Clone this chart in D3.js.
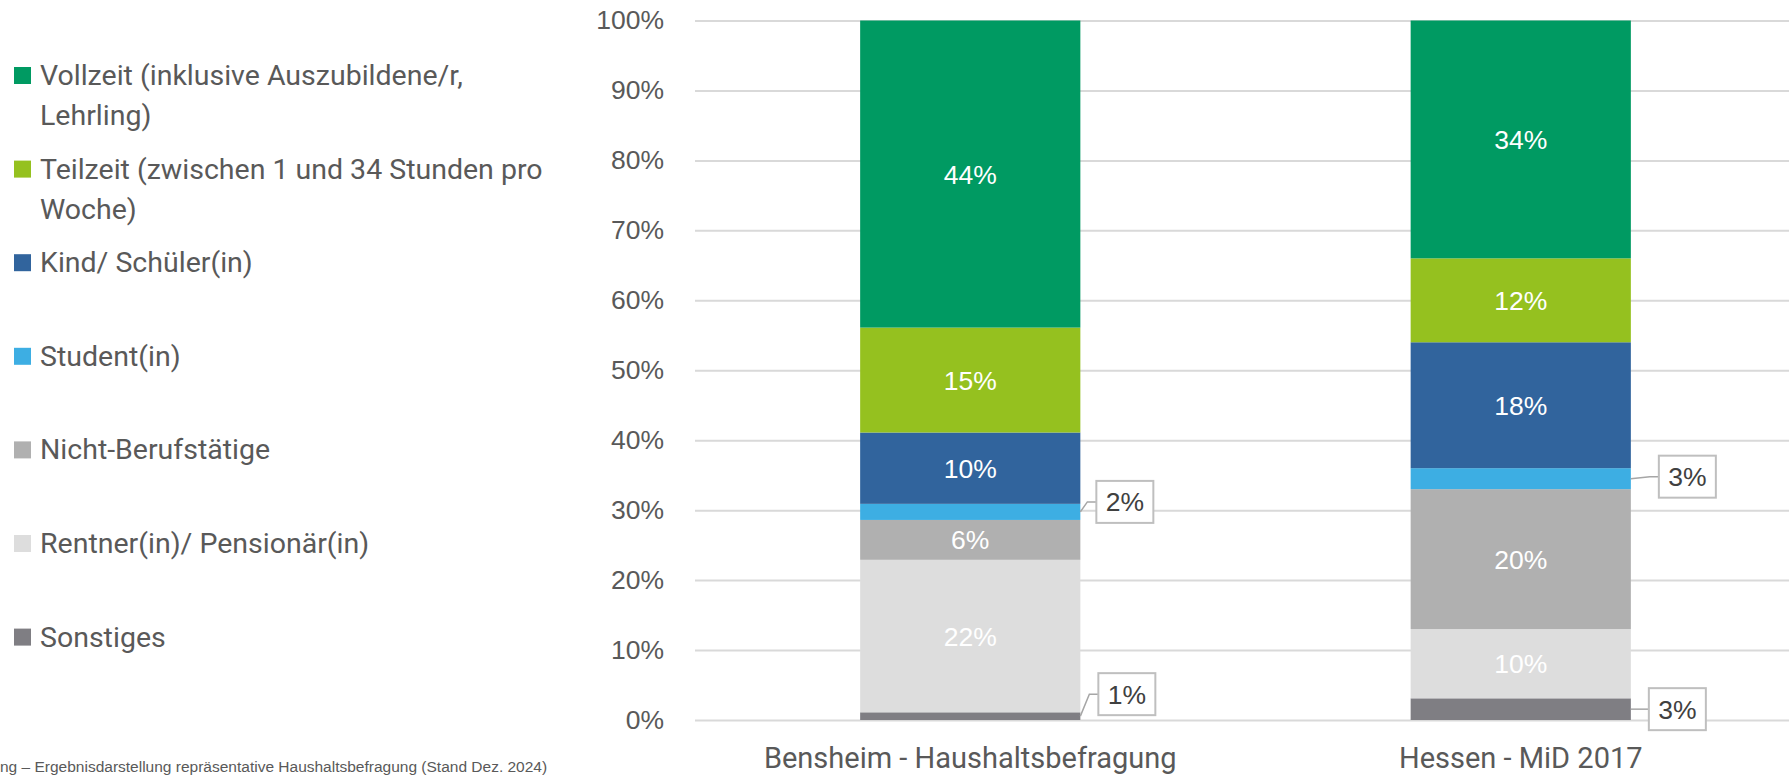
<!DOCTYPE html>
<html>
<head>
<meta charset="utf-8">
<script src="https://cdn.jsdelivr.net/npm/d3@7"></script>
<style>
  html, body { margin: 0; padding: 0; background: #ffffff; }
  svg { display: block; }
</style>
</head>
<body>
<script>
// ---------- DATA ----------
const categories = ["Bensheim - Haushaltsbefragung", "Hessen - MiD 2017"];
const seriesKeys = ["sonstiges", "rentner", "nichtBerufstaetige", "student", "kind", "teilzeit", "vollzeit"];
const sonstiges = [1.1, 3.1];
const rentner = [21.8, 9.9];
const nichtBerufstaetige = [5.7, 20.0];
const student = [2.3, 3.0];
const kind = [10.2, 18.0];
const teilzeit = [15.0, 12.0];
const vollzeit = [43.9, 34.0];
const yTicks = [0, 10, 20, 30, 40, 50, 60, 70, 80, 90, 100];
const legendKeys = ["vollzeit", "teilzeit", "kind", "student", "nichtBerufstaetige", "rentner", "sonstiges"];
const legendLabels = [
  ["Vollzeit (inklusive Auszubildene/r,", "Lehrling)"],
  ["Teilzeit (zwischen 1 und 34 Stunden pro", "Woche)"],
  ["Kind/ Schüler(in)"],
  ["Student(in)"],
  ["Nicht-Berufstätige"],
  ["Rentner(in)/ Pensionär(in)"],
  ["Sonstiges"]
];
const footnote = "ng – Ergebnisdarstellung repräsentative Haushaltsbefragung (Stand Dez. 2024)";
// segments whose labels are drawn outside in callout boxes
const calloutKeys = ["student", "sonstiges"];

// ---------- STYLE / LAYOUT ----------
const W = 1789, H = 777;
const colors = {
  vollzeit: "#009a62",
  teilzeit: "#95c11f",
  kind: "#31649d",
  student: "#3daee3",
  nichtBerufstaetige: "#b0b0b0",
  rentner: "#dddddd",
  sonstiges: "#7f7e83"
};
const calloutLayout = {
  "0|student":   { dx: 16, dy: -10 },
  "0|sonstiges": { dx: 18, dy: -22 },
  "1|student":   { dx: 28, dy: -2 },
  "1|sonstiges": { dx: 18, dy: 0 }
};
const numFont = "'Liberation Sans', Arial, sans-serif";
const textFont = "Roboto, 'Noto Sans', sans-serif";
const grey = "#595959";

const values = { sonstiges, rentner, nichtBerufstaetige, student, kind, teilzeit, vollzeit };
const table = categories.map((c, i) => {
  const row = { category: c, idx: i };
  seriesKeys.forEach(k => row[k] = values[k][i]);
  return row;
});

const svg = d3.select("body").append("svg").attr("width", W).attr("height", H);

const x = d3.scaleBand().domain(categories).range([695, 1796]).paddingInner(0.6).paddingOuter(0.3);
const y = d3.scaleLinear().domain([0, 100]).range([720, 20.5]);

// Y axis + gridlines
const yAxis = d3.axisLeft(y).tickValues(yTicks).tickFormat(d => d + "%")
  .tickSize(-(W - 695)).tickPadding(31);
const gy = svg.append("g").attr("transform", "translate(695,0)").call(yAxis);
gy.select(".domain").remove();
gy.selectAll(".tick line").attr("stroke", "#d9d9d9").attr("stroke-width", 2);
gy.selectAll(".tick text").attr("fill", grey).style("font-family", numFont).style("font-size", "26.5px");

// Stacked bars
const stack = d3.stack().keys(seriesKeys);
const layers = stack(table);
const layerG = svg.append("g").selectAll("g").data(layers).join("g")
  .attr("fill", d => colors[d.key]);
layerG.selectAll("rect").data(d => d.map(s => Object.assign(s, { key: d.key }))).join("rect")
  .attr("x", d => x(d.data.category))
  .attr("width", x.bandwidth())
  .attr("y", d => y(d[1]))
  .attr("height", d => y(d[0]) - y(d[1]));

// Inside labels
layers.forEach(layer => {
  if (calloutKeys.includes(layer.key)) return;
  svg.append("g").selectAll("text").data(layer).join("text")
    .attr("x", d => x(d.data.category) + x.bandwidth() / 2)
    .attr("y", d => (y(d[0]) + y(d[1])) / 2)
    .attr("dy", "0.36em")
    .attr("text-anchor", "middle")
    .attr("fill", "#ffffff")
    .style("font-family", numFont).style("font-size", "26.5px")
    .text(d => Math.round(d[1] - d[0]) + "%");
});

// Callouts
layers.forEach(layer => {
  if (!calloutKeys.includes(layer.key)) return;
  layer.forEach(d => {
    const L = calloutLayout[d.data.idx + "|" + layer.key];
    const bx = x(d.data.category) + x.bandwidth();
    const segY = (y(d[0]) + y(d[1])) / 2;
    const boxW = 57, boxH = 42;
    const boxL = bx + L.dx, boxCy = segY + L.dy;
    const g = svg.append("g");
    g.append("path")
      .attr("d", d3.line()([[bx, segY], [boxL - 9, boxCy], [boxL, boxCy]]))
      .attr("fill", "none").attr("stroke", "#a6a6a6").attr("stroke-width", 1.5);
    g.append("rect").attr("x", boxL).attr("y", boxCy - boxH / 2)
      .attr("width", boxW).attr("height", boxH)
      .attr("fill", "#ffffff").attr("stroke", "#bfbfbf").attr("stroke-width", 2);
    g.append("text").attr("x", boxL + boxW / 2).attr("y", boxCy).attr("dy", "0.36em")
      .attr("text-anchor", "middle").attr("fill", "#404040")
      .style("font-family", numFont).style("font-size", "26.5px")
      .text(Math.round(d[1] - d[0]) + "%");
  });
});

// X axis labels
const xAxis = d3.axisBottom(x).tickSize(0).tickPadding(0);
const gx = svg.append("g").attr("transform", "translate(0,720)").call(xAxis);
gx.select(".domain").remove();
gx.selectAll(".tick text").attr("y", 48).attr("dy", 0).attr("fill", grey)
  .style("font-family", textFont).style("font-size", "29px");

// Legend
const legend = svg.append("g");
legendKeys.forEach((k, i) => {
  const base = 85 + i * 93.6;
  legend.append("rect").attr("x", 14).attr("y", base - 18).attr("width", 17).attr("height", 17)
    .attr("fill", colors[k]);
  const t = legend.append("text").attr("fill", grey)
    .style("font-family", textFont).style("font-size", "28.5px");
  legendLabels[i].forEach((line, j) => {
    t.append("tspan").attr("x", 40).attr("y", base + j * 40).text(line);
  });
});

// Footnote
svg.append("text").attr("x", 0).attr("y", 772).attr("fill", grey)
  .style("font-family", numFont).style("font-size", "15.5px").text(footnote);
</script>
</body>
</html>
